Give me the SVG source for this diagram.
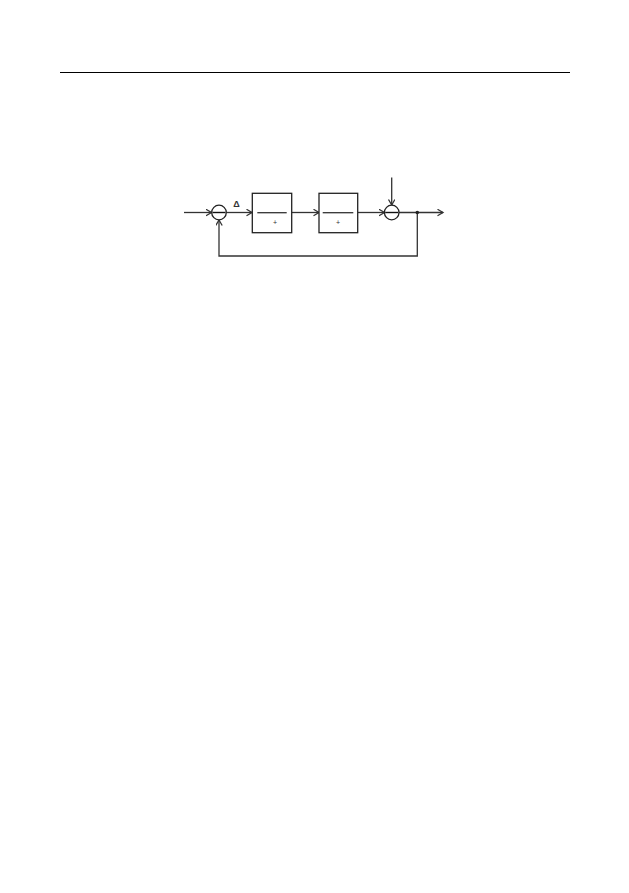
<svg xmlns="http://www.w3.org/2000/svg" width="629" height="893" viewBox="0 0 629 893">
<style>
.ln{stroke:#333;stroke-width:1.3;fill:none}
.box{stroke:#222;stroke-width:1.3;fill:#fff}
.sum{stroke:#222;stroke-width:1.3;fill:#fff}
.minus{stroke:#111;stroke-width:1.4}
.t{font-family:"Liberation Sans",Arial,sans-serif;fill:#333}
</style>
<defs>
<marker id="ah" markerWidth="8" markerHeight="8" refX="6" refY="3.5" orient="auto" markerUnits="userSpaceOnUse">
<path d="M0.5,0.3 L6,3.5 L0.5,6.7" stroke="#333" stroke-width="1.3" fill="none"/>
</marker>
</defs>
<rect width="629" height="893" fill="#fff"/>
<line x1="60" y1="72.5" x2="570" y2="72.5" stroke="#000" stroke-width="1"/>
<g id="connectors">
<line class="ln" x1="184" y1="212.5" x2="211.5" y2="212.5" marker-end="url(#ah)"/>
<line class="ln" x1="226.5" y1="212.5" x2="252" y2="212.5" marker-end="url(#ah)"/>
<line class="ln" x1="292" y1="212.5" x2="319" y2="212.5" marker-end="url(#ah)"/>
<line class="ln" x1="358" y1="212.5" x2="384.5" y2="212.5" marker-end="url(#ah)"/>
<line class="ln" x1="399" y1="212.5" x2="443" y2="212.5" marker-end="url(#ah)"/>
<line class="ln" x1="391.7" y1="177.5" x2="391.7" y2="205" marker-end="url(#ah)"/>
<polyline class="ln" points="417.3,212.5 417.3,256 219,256 219,220" marker-end="url(#ah)"/>
<circle cx="417.3" cy="212.5" r="1.8" fill="#222"/>
<text class="t" x="236.5" y="206.5" font-size="9" font-weight="bold" text-anchor="middle">Δ</text>
</g>
<g id="sum1">
<circle class="sum" cx="219" cy="212.5" r="7.3"/>
<line class="minus" x1="212.5" y1="212.5" x2="225.5" y2="212.5"/>
</g>
<g id="block1">
<rect class="box" x="252.3" y="193.3" width="39.4" height="39.4"/>
<line class="ln" x1="257.3" y1="212.7" x2="286.7" y2="212.7"/>
<text class="t" x="275" y="225" font-size="7" text-anchor="middle">+</text>
</g>
<g id="block2">
<rect class="box" x="319" y="193.3" width="38.7" height="39.4"/>
<line class="ln" x1="322.7" y1="212.7" x2="353.3" y2="212.7"/>
<text class="t" x="338" y="225" font-size="7" text-anchor="middle">+</text>
</g>
<g id="sum2">
<circle class="sum" cx="391.7" cy="212.5" r="7.3"/>
<line class="minus" x1="385.2" y1="212.5" x2="398.2" y2="212.5"/>
</g>
</svg>
